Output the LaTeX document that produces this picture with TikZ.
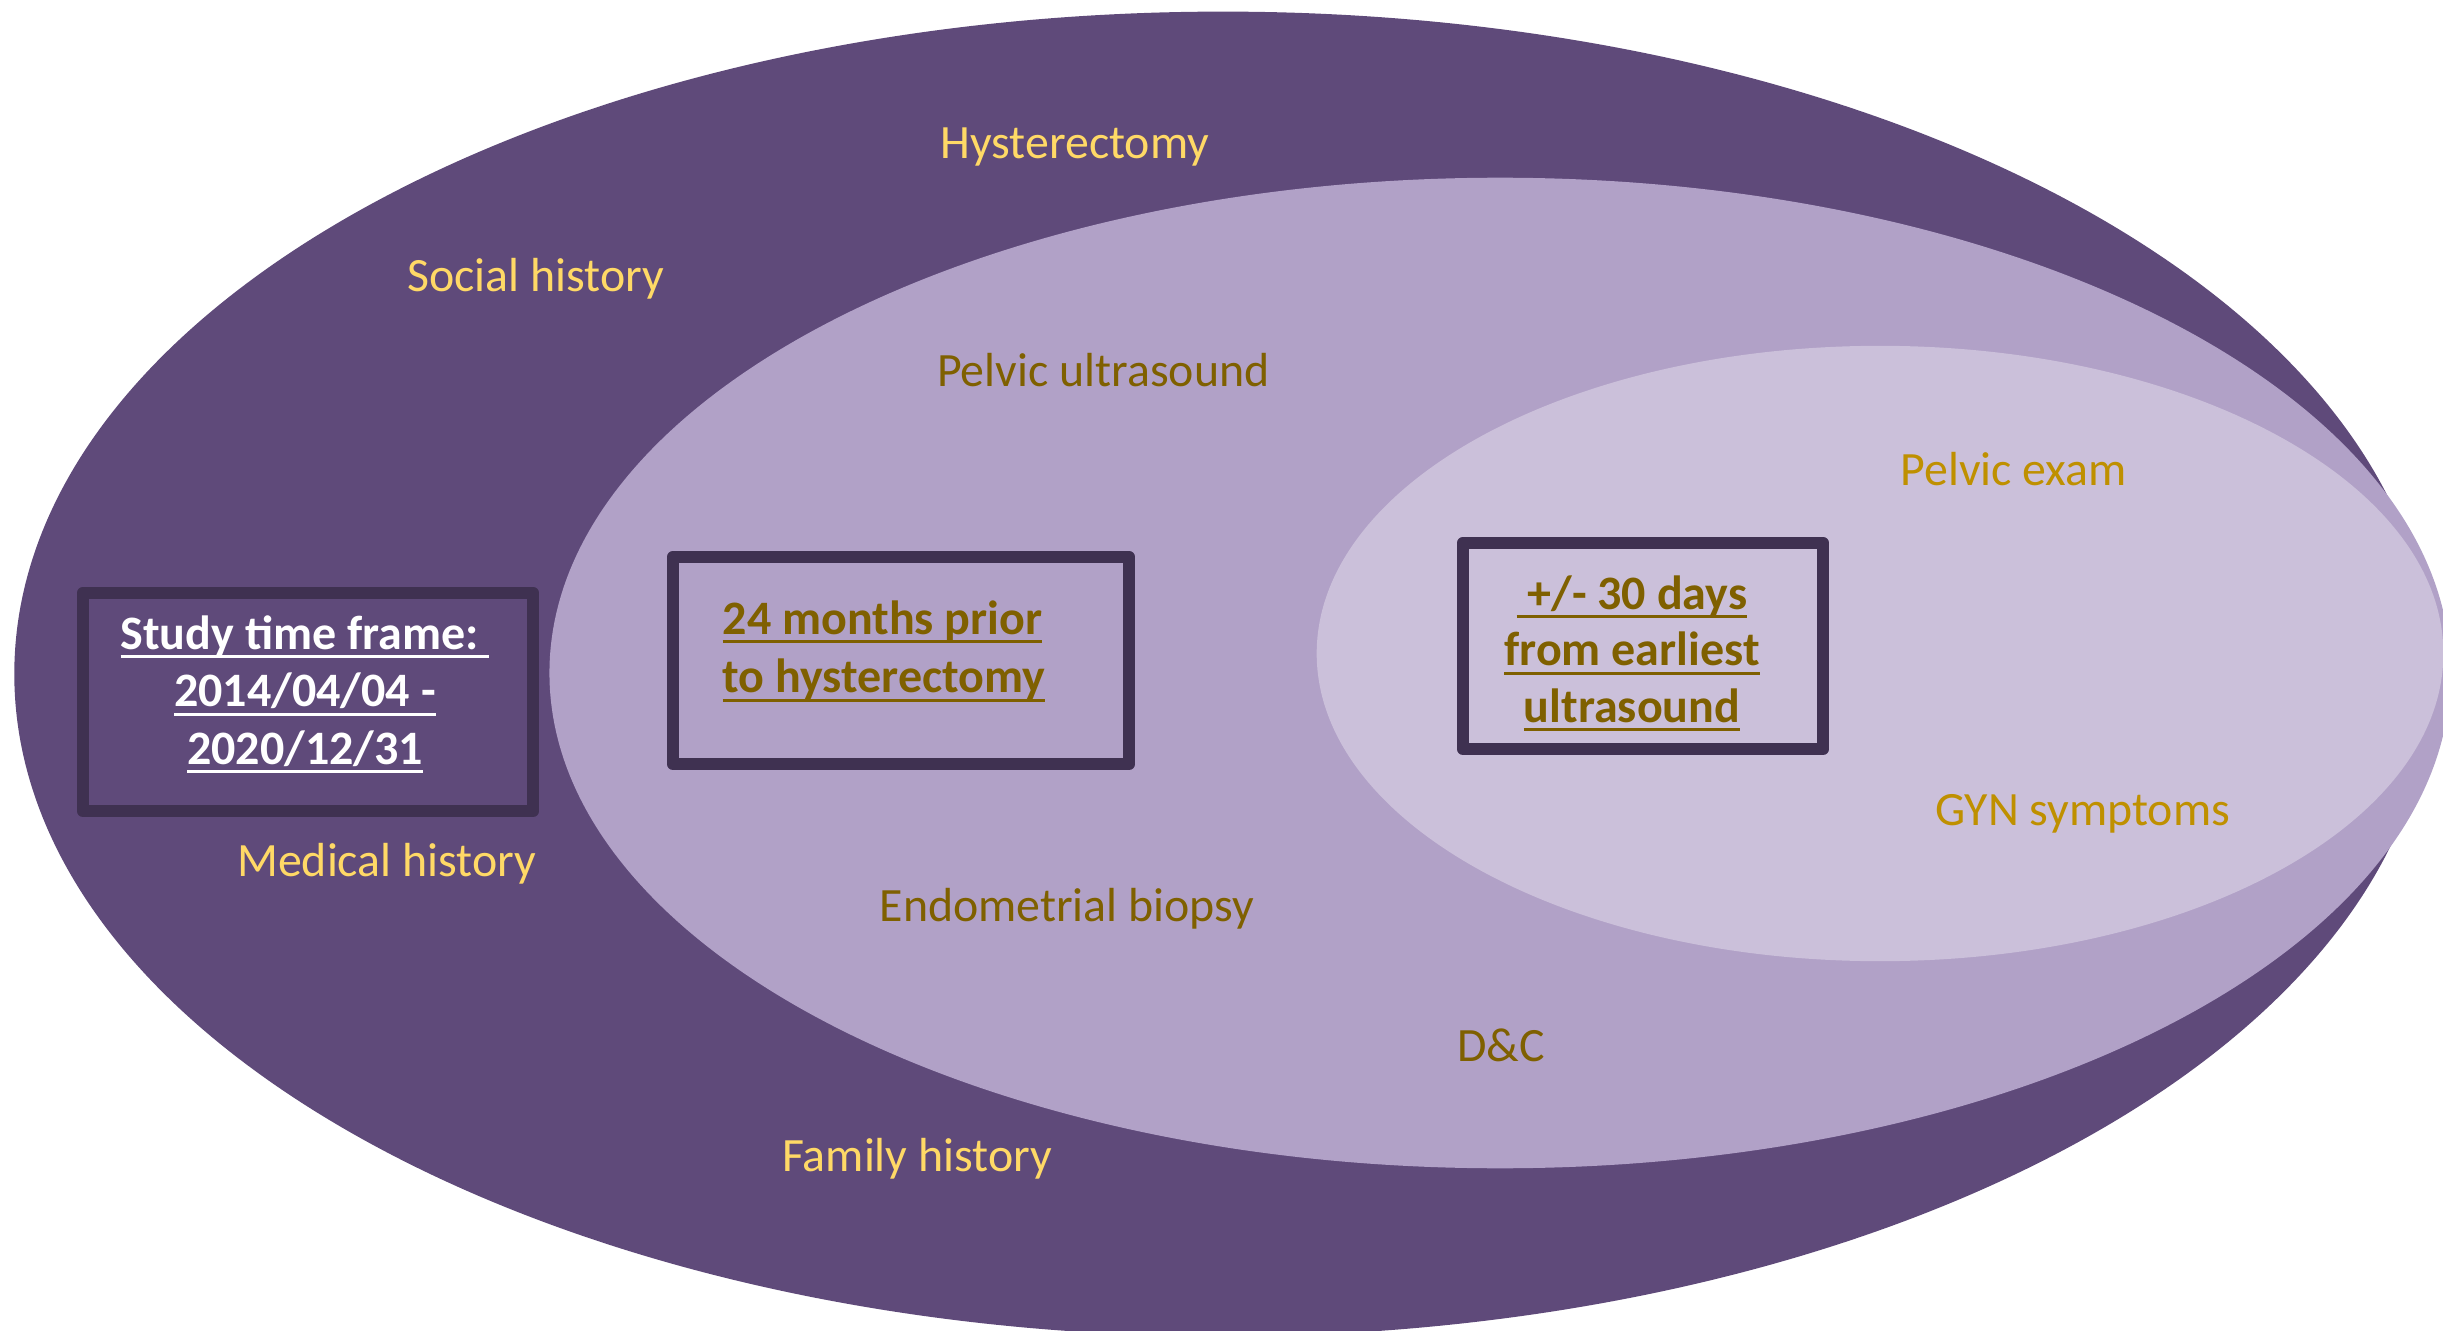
\documentclass[tikz,border=0pt]{standalone}
\usepackage{fontspec}
\setmainfont{Carlito}
\definecolor{outerc}{HTML}{5F4A7A}
\definecolor{midc}{HTML}{B1A1C7}
\definecolor{innerc}{HTML}{CBC0DA}
\definecolor{framec}{HTML}{3F3151}
\definecolor{lightgold}{HTML}{FFD966}
\definecolor{darkgold}{HTML}{7F6000}
\definecolor{gold}{HTML}{BF9000}
% underline at a fixed depth below the baseline, as a word processor draws it
\newcommand\ulline[1]{\sbox0{#1}\rlap{\usebox0}\rule[-0.0885cm]{\wd0}{0.027cm}}
\tikzset{
  lbl/.style={inner sep=0pt, anchor=base west, font=\fontsize{13.6pt}{16.2pt}\selectfont},
  outerlbl/.style={lbl, text=lightgold},
  midlbl/.style={lbl, text=darkgold},
  innerlbl/.style={lbl, text=gold},
  boxline/.style={inner sep=0pt, font=\bfseries\fontsize{13.65pt}{16.2pt}\selectfont},
  framebox/.style={draw=framec, line width=0.12cm, line join=round, inner sep=0pt}
}
\begin{document}
\begin{tikzpicture}[x=0.01cm, y=-0.01cm]
\clip (0,0) rectangle (2443,1331);
% nested ellipses
\fill[outerc] (1223,674) ellipse [x radius=12.08cm, y radius=6.62cm];
\fill[midc] (1500,673) ellipse [x radius=9.50cm, y radius=4.95cm];
\fill[innerc] (1880,653.5) ellipse [x radius=5.63cm, y radius=3.075cm];

% outer ring labels
\node[outerlbl] (hyst) at (940,158.3) {Hysterectomy};
\node[outerlbl] (social) at (406.5,291.7) {Social history};
\node[outerlbl] (medical) at (236.5,876.7) {Medical history};
\node[outerlbl] (family) at (781.5,1171.7) {Family history};

% middle ring labels
\node[midlbl] (pus) at (936.5,386.7) {Pelvic ultrasound};
\node[midlbl] (endo) at (879,921.7) {Endometrial biopsy};
\node[midlbl] (dc) at (1456.5,1061) {D\&C};

% inner ellipse labels
\node[innerlbl] (pexam) at (1900,485.7) {Pelvic exam};
\node[innerlbl] (gyn) at (1934.5,825) {GYN symptoms};

% framed time windows
\node[framebox, minimum width=4.50cm, minimum height=2.18cm] (frameA) at (308,702) {};
\node[boxline, text=white, anchor=base] (a1) at (305,649.3) {\ulline{Study time frame:\ }};
\node[boxline, text=white, anchor=base] (a2) at (305,706.7) {\ulline{2014/04/04 -}};
\node[boxline, text=white, anchor=base] (a3) at (305,764) {\ulline{2020/12/31}};

\node[framebox, minimum width=4.56cm, minimum height=2.07cm] (frameB) at (901,660.5) {};
\node[boxline, text=darkgold, anchor=base west] (b1) at (722,634) {\ulline{24 months prior}};
\node[boxline, text=darkgold, anchor=base west] (b2) at (722,692.7) {\ulline{to hysterectomy}};

\node[framebox, minimum width=3.60cm, minimum height=2.06cm] (frameC) at (1643,646) {};
\node[boxline, text=darkgold, anchor=base] (c1) at (1632,609.3) {\ulline{\ +/- 30 days}};
\node[boxline, text=darkgold, anchor=base] (c2) at (1632,665.8) {\ulline{from earliest}};
\node[boxline, text=darkgold, anchor=base] (c3) at (1632,722.3) {\ulline{ultrasound}};
\end{tikzpicture}
\end{document}
